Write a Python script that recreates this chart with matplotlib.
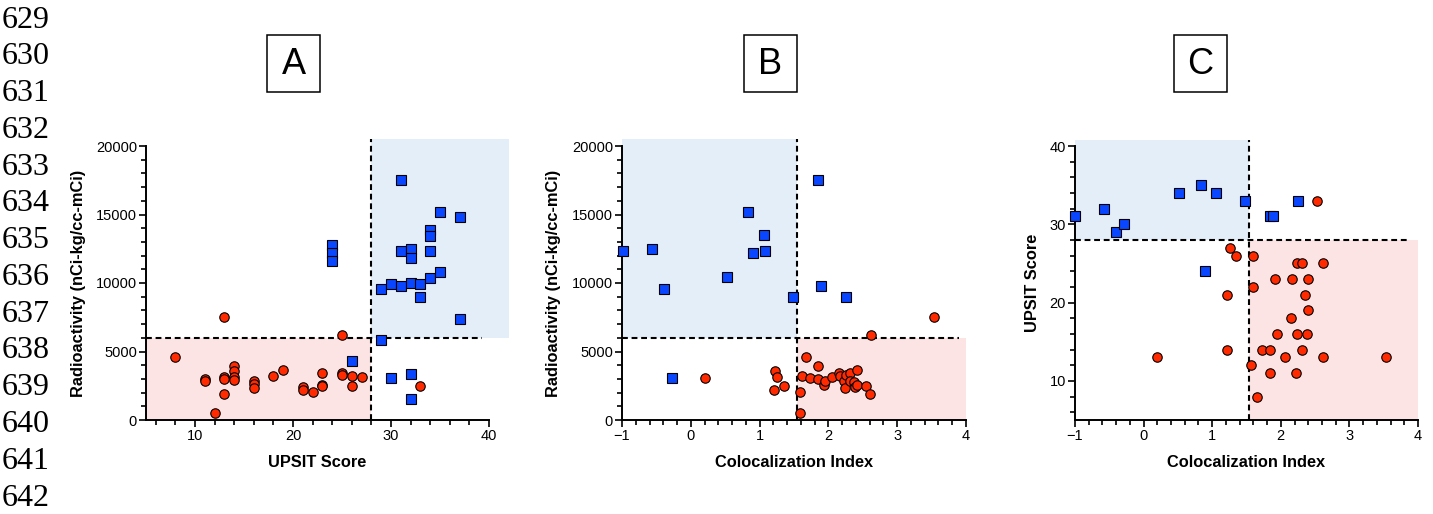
import matplotlib
matplotlib.use("Agg")
import matplotlib.pyplot as plt
import matplotlib.ticker as mticker
from matplotlib.patches import Rectangle

plt.rcParams['font.family'] = ['Liberation Sans', 'DejaVu Sans']

# ---- data ----
# panel A: UPSIT score vs radioactivity
a_blue_x = [31, 24, 24, 24, 35, 37, 34, 34, 31, 32, 32, 34, 29, 30, 31, 32, 33, 34, 35, 33, 37, 29, 26, 30, 32, 32]
a_blue_y = [17500, 12800, 12200, 11600, 15150, 14850, 13850, 13450, 12300, 12450, 11800, 12300,
            9550, 9950, 9750, 10000, 9950, 10400, 10800, 9000, 7400, 5870, 4300, 3070, 3360, 1560]
a_red_x = [8, 13, 25, 11, 11, 13, 13, 13, 12, 14, 14, 14, 14, 16, 16, 16, 18, 19, 21, 21, 22,
           23, 23, 23, 25, 25, 26, 26, 27, 33]
a_red_y = [4580, 7500, 6240, 3000, 2830, 3120, 3000, 1900, 510, 3950, 3550, 3150, 2900, 2870, 2630, 2310,
           3240, 3650, 2440, 2220, 2070, 3430, 2580, 2480, 3430, 3310, 3220, 2480, 3140, 2480]

# panel B: colocalization index vs radioactivity
b_blue_x = [-0.99, -0.57, -0.39, -0.27, 0.52, 0.83, 0.91, 1.06, 1.08, 1.49, 1.85, 1.89, 2.26]
b_blue_y = [12300, 12450, 9550, 3070, 10430, 15150, 12160, 13470, 12300, 9000, 17500, 9750, 9000]
b_red_x = [0.21, 1.23, 1.26, 1.21, 1.35, 1.58, 1.59, 1.61, 1.67, 1.73, 1.85, 1.85, 1.94, 1.95, 2.05,
           2.16, 2.17, 2.22, 2.24, 2.25, 2.31, 2.32, 2.37, 2.38, 2.41, 2.42, 2.54, 2.61, 2.62, 3.53]
b_red_y = [3050, 3560, 3120, 2220, 2480, 510, 2070, 3190, 4580, 3090, 3920, 3000, 2580, 2870, 3140,
           3430, 3190, 2830, 2310, 3290, 3430, 2830, 2750, 2390, 3650, 2530, 2480, 1880, 6240, 7500]

# panel C: colocalization index vs UPSIT score
c_blue_x = [-1.0, -0.58, -0.40, -0.28, 0.51, 0.83, 1.06, 1.48, 1.84, 1.89, 2.25, 0.90]
c_blue_y = [31, 32, 29, 30, 34, 35, 34, 33, 31, 31, 33, 24]
c_red_x = [2.53, 1.26, 1.35, 1.60, 2.24, 2.31, 2.62, 1.92, 2.17, 2.40, 1.59, 1.22, 2.36, 2.39, 2.15,
           1.94, 2.24, 2.38, 1.22, 1.72, 1.84, 2.31, 0.20, 2.06, 2.61, 3.53, 1.57, 1.84, 2.22, 1.66]
c_red_y = [33, 27, 26, 26, 25, 25, 25, 23, 23, 23, 22, 21, 21, 19, 18,
           16, 16, 16, 14, 14, 14, 14, 13, 13, 13, 13, 12, 11, 11, 8]

upsit_cut = 28
radio_cut = 6000
coloc_cut = 1.54

panel_letters = ["A", "B", "C"]
line_numbers = list(range(629, 643))

BLUE = "#0a46ff"
RED = "#ff2a00"
BLUE_BG = "#e4eef8"
RED_BG = "#fde4e4"

W, H = 1433, 514
fig = plt.figure(figsize=(W / 100, H / 100), dpi=100)


def px_axes(left, right, top, bottom):
    return fig.add_axes([left / W, 1 - bottom / H, (right - left) / W, (bottom - top) / H])


def style(ax):
    for s in ("top", "right"):
        ax.spines[s].set_visible(False)
    for s in ("left", "bottom"):
        ax.spines[s].set_linewidth(1.4)
    ax.tick_params(which="major", direction="out", length=5, width=1.2, labelsize=10.5, pad=1.5)
    ax.tick_params(which="minor", direction="out", length=3.5, width=1.2)
    ax.patch.set_alpha(0)


def labels(ax, xlabel, ylabel, ylab_x):
    ax.set_xlabel(xlabel, fontsize=11.8, fontweight="bold")
    ax.set_ylabel(ylabel, fontsize=11.8, fontweight="bold")
    ax.xaxis.set_label_coords(0.5, -0.128)
    ax.yaxis.set_label_coords(ylab_x, 0.5)


def dashed(ax, xs, ys):
    ax.plot(xs, ys, color="black", lw=1.5, ls=(0, (2.8, 1.8)), clip_on=False, zorder=2)


def points(ax, bx, by, rx, ry):
    ax.plot(bx, by, "s", ms=6.6, mfc=BLUE, mec="black", mew=0.8, ls="none", clip_on=False, zorder=3)
    ax.plot(rx, ry, "o", ms=6.8, mfc=RED, mec="black", mew=0.8, ls="none", clip_on=False, zorder=4)


def letter_box(cx, letter):
    fig.add_artist(Rectangle(((cx - 26.5) / W, 1 - 92 / H), 53 / W, 57 / H,
                             transform=fig.transFigure, fc="white", ec="black", lw=1.1))
    fig.text(cx / W, 1 - 64 / H, letter, fontsize=26, ha="center", va="center")


# ---- panel A ----
ax = px_axes(146, 489, 146, 420)
style(ax)
ax.set_xlim(5, 40)
ax.set_ylim(0, 20000)
ax.add_patch(Rectangle((5, 0), upsit_cut - 5, radio_cut, fc=RED_BG, ec="none", zorder=0, clip_on=False))
ax.add_patch(Rectangle((upsit_cut, radio_cut), 42 - upsit_cut, 20500 - radio_cut,
                       fc=BLUE_BG, ec="none", zorder=0, clip_on=False))
dashed(ax, [5, 39.3], [radio_cut, radio_cut])
dashed(ax, [upsit_cut, upsit_cut], [0, 20500])
points(ax, a_blue_x, a_blue_y, a_red_x, a_red_y)
ax.xaxis.set_major_locator(mticker.MultipleLocator(10))
ax.xaxis.set_minor_locator(mticker.MultipleLocator(2))
ax.yaxis.set_major_locator(mticker.MultipleLocator(5000))
ax.yaxis.set_minor_locator(mticker.MultipleLocator(1000))
labels(ax, "UPSIT Score", "Radioactivity (nCi-kg/cc-mCi)", -0.176)

# ---- panel B ----
ax = px_axes(622, 966, 146, 420)
style(ax)
ax.set_xlim(-1, 4)
ax.set_ylim(0, 20000)
ax.add_patch(Rectangle((-1, radio_cut), coloc_cut + 1, 20500 - radio_cut,
                       fc=BLUE_BG, ec="none", zorder=0, clip_on=False))
ax.add_patch(Rectangle((coloc_cut, 0), 4 - coloc_cut, radio_cut, fc=RED_BG, ec="none", zorder=0, clip_on=False))
dashed(ax, [-1, 3.9], [radio_cut, radio_cut])
dashed(ax, [coloc_cut, coloc_cut], [0, 20500])
points(ax, b_blue_x, b_blue_y, b_red_x, b_red_y)
ax.xaxis.set_major_locator(mticker.MultipleLocator(1))
ax.xaxis.set_minor_locator(mticker.MultipleLocator(0.2))
ax.yaxis.set_major_locator(mticker.MultipleLocator(5000))
ax.yaxis.set_minor_locator(mticker.MultipleLocator(1000))
labels(ax, "Colocalization Index", "Radioactivity (nCi-kg/cc-mCi)", -0.176)

# ---- panel C ----
ax = px_axes(1075, 1418, 146, 420)
style(ax)
ax.set_xlim(-1, 4)
ax.set_ylim(5, 40)
ax.add_patch(Rectangle((-1, upsit_cut), coloc_cut + 1, 40.8 - upsit_cut,
                       fc=BLUE_BG, ec="none", zorder=0, clip_on=False))
ax.add_patch(Rectangle((coloc_cut, 5), 4 - coloc_cut, upsit_cut - 5, fc=RED_BG, ec="none", zorder=0, clip_on=False))
dashed(ax, [-1, 3.88], [upsit_cut, upsit_cut])
dashed(ax, [coloc_cut, coloc_cut], [5, 40.8])
points(ax, c_blue_x, c_blue_y, c_red_x, c_red_y)
ax.xaxis.set_major_locator(mticker.MultipleLocator(1))
ax.xaxis.set_minor_locator(mticker.MultipleLocator(0.2))
ax.yaxis.set_major_locator(mticker.MultipleLocator(10))
ax.yaxis.set_minor_locator(mticker.FixedLocator(list(range(6, 41, 2))))
labels(ax, "Colocalization Index", "UPSIT Score", -0.102)

# panel letters
for cx, letter in zip([293.5, 770, 1200], panel_letters):
    letter_box(cx, letter)

# manuscript line numbers
for i, n in enumerate(line_numbers):
    fig.text(2 / W, 1 - (20 + 36.77 * i) / H, str(n), fontsize=23,
             family="Liberation Serif", ha="left", va="center")

fig.savefig("out.png", dpi=100)
